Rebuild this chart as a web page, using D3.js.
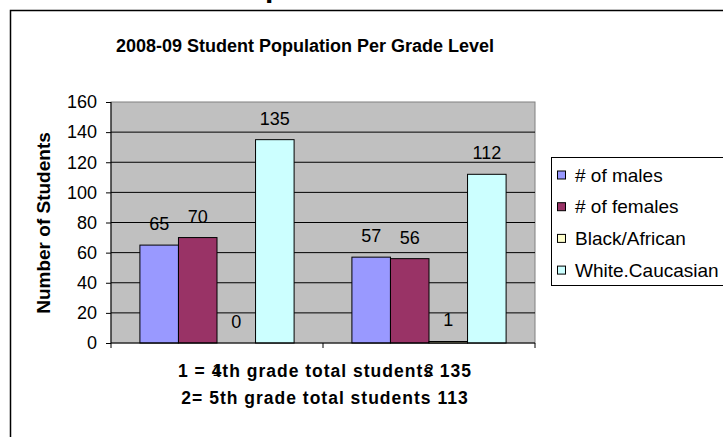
<!DOCTYPE html>
<html>
<head>
<meta charset="utf-8">
<script src="https://cdn.jsdelivr.net/npm/d3@7"></script>
<style>
  body { margin: 0; background: #fff; }
  text { font-family: "Liberation Sans", Arial, sans-serif; }
</style>
</head>
<body>
<div class="canvas"></div>
<script>
// data
const categories = ["1", "2"];
const seriesNames = ["# of males", "# of females", "Black/African", "White.Caucasian"];
const males = [65, 57];
const females = [70, 56];
const blackAfrican = [0, 1];
const whiteCaucasian = [135, 112];
const yTicks = [0, 20, 40, 60, 80, 100, 120, 140, 160];
const chartTitle = "2008-09 Student Population Per Grade Level";
const yTitle = "Number of Students";
const xNotes = ["1 = 4th grade total students 135", "2= 5th grade total students 113"];

const seriesValues = [males, females, blackAfrican, whiteCaucasian];
const colors = ["#9999ff", "#993366", "#ffffcc", "#ccffff"];

const landScape = { width: 723, height: 437 };
const margin = { top: 102, right: 188, bottom: 94, left: 111 };
const graphWidth = landScape.width - margin.left - margin.right;
const graphHeight = landScape.height - margin.top - margin.bottom;

const svg = d3.select(".canvas")
  .append("svg")
  .attr("width", landScape.width)
  .attr("height", landScape.height)
  .style("display", "block");

// page heading fragment peeking in at the top
svg.append("text")
  .attr("x", 265).attr("y", -3)
  .attr("font-family", "Liberation Serif")
  .attr("font-weight", "bold")
  .attr("font-size", 30)
  .text("p");

// outer chart frame (runs off the right and bottom edge)
svg.append("rect")
  .attr("x", 10.5).attr("y", 10.5)
  .attr("width", 760).attr("height", 460)
  .attr("fill", "#fff")
  .attr("stroke", "#000")
  .attr("stroke-width", 1.5);

svg.append("text")
  .attr("x", 305).attr("y", 52)
  .attr("text-anchor", "middle")
  .attr("font-weight", "bold")
  .attr("font-size", 18)
  .text(chartTitle);

const graph = svg.append("g")
  .attr("transform", `translate(${margin.left}, ${margin.top})`);

// scales
const yScale = d3.scaleLinear().domain([0, 160]).range([graphHeight, 0]);
const xScale = d3.scaleBand().domain(categories).range([0, graphWidth]);
const xInner = d3.scaleBand()
  .domain(seriesNames)
  .range([0, xScale.bandwidth()])
  .paddingInner(0)
  .paddingOuter(0.75);

// plot area
graph.append("rect")
  .attr("width", graphWidth)
  .attr("height", graphHeight)
  .attr("fill", "#c0c0c0")
  .attr("stroke", "#808080");

graph.selectAll("line.grid")
  .data(yTicks.filter(t => t > 0 && t < 160))
  .enter()
  .append("line")
  .attr("class", "grid")
  .attr("x1", 0).attr("x2", graphWidth)
  .attr("y1", d => yScale(d)).attr("y2", d => yScale(d))
  .attr("stroke", "#000");

// bars
const groups = graph.selectAll("g.cat")
  .data(categories)
  .enter()
  .append("g")
  .attr("class", "cat")
  .attr("transform", d => `translate(${xScale(d)}, 0)`);

const barData = (c, ci) => seriesNames.map((s, si) => ({ s, si, v: seriesValues[si][ci] }));

groups.selectAll("rect")
  .data((c, ci) => barData(c, ci))
  .enter()
  .append("rect")
  .attr("x", d => xInner(d.s))
  .attr("y", d => yScale(d.v))
  .attr("width", xInner.bandwidth())
  .attr("height", d => graphHeight - yScale(d.v))
  .attr("fill", d => colors[d.si])
  .attr("stroke", "#000")
  .attr("stroke-width", 1);

groups.selectAll("text.val")
  .data((c, ci) => barData(c, ci))
  .enter()
  .append("text")
  .attr("class", "val")
  .attr("x", d => xInner(d.s) + xInner.bandwidth() / 2)
  .attr("y", d => yScale(d.v) - 15)
  .attr("text-anchor", "middle")
  .attr("font-size", 18)
  .text(d => d.v);

// axes
const yAxis = d3.axisLeft(yScale).tickValues(yTicks).tickSize(5).tickPadding(9);
const xAxis = d3.axisBottom(xScale).tickSize(0).tickPadding(21);

const yAxisGroup = graph.append("g").call(yAxis);
yAxisGroup.select(".domain").attr("d", `M0,0V${graphHeight}`);
yAxisGroup.selectAll("text").attr("font-size", 18).attr("fill", "#000").attr("font-family", null);

const xAxisGroup = graph.append("g")
  .attr("transform", `translate(0, ${graphHeight})`)
  .call(xAxis);
xAxisGroup.select(".domain").attr("d", `M0,0H${graphWidth}`);
xAxisGroup.selectAll("text").attr("font-size", 17).attr("fill", "#000").attr("font-family", null)
  .attr("dy", "0.71em");

// category separators
graph.selectAll("line.sep")
  .data([0, ...categories.map(c => xScale(c) + xScale.bandwidth())])
  .enter()
  .append("line")
  .attr("class", "sep")
  .attr("x1", d => d).attr("x2", d => d)
  .attr("y1", graphHeight).attr("y2", graphHeight + 5)
  .attr("stroke", "#000");

// axis titles
svg.append("text")
  .attr("transform", `translate(50, 223) rotate(-90)`)
  .attr("text-anchor", "middle")
  .attr("font-weight", "bold")
  .attr("font-size", 19)
  .text(yTitle);

svg.selectAll("text.note")
  .data(xNotes)
  .enter()
  .append("text")
  .attr("class", "note")
  .attr("x", 325)
  .attr("y", (d, i) => 377 + i * 26.5)
  .attr("text-anchor", "middle")
  .attr("font-weight", "bold")
  .attr("font-size", 17.5)
  .attr("letter-spacing", 1)
  .text(d => d);

// legend
const legend = svg.append("g").attr("transform", "translate(551, 157)");
legend.append("rect")
  .attr("x", 0.5).attr("y", 0.5)
  .attr("width", 260).attr("height", 128)
  .attr("fill", "#fff")
  .attr("stroke", "#000");

const items = legend.selectAll("g.item")
  .data(seriesNames)
  .enter()
  .append("g")
  .attr("class", "item")
  .attr("transform", (d, i) => `translate(0, ${24.5 + i * 31.7})`);

items.append("rect")
  .attr("x", 6.5).attr("y", -10.5)
  .attr("width", 8).attr("height", 8)
  .attr("fill", (d, i) => colors[i])
  .attr("stroke", "#000");

items.append("text")
  .attr("x", 24).attr("y", 0)
  .attr("font-size", 19)
  .text(d => d);
</script>
</body>
</html>
